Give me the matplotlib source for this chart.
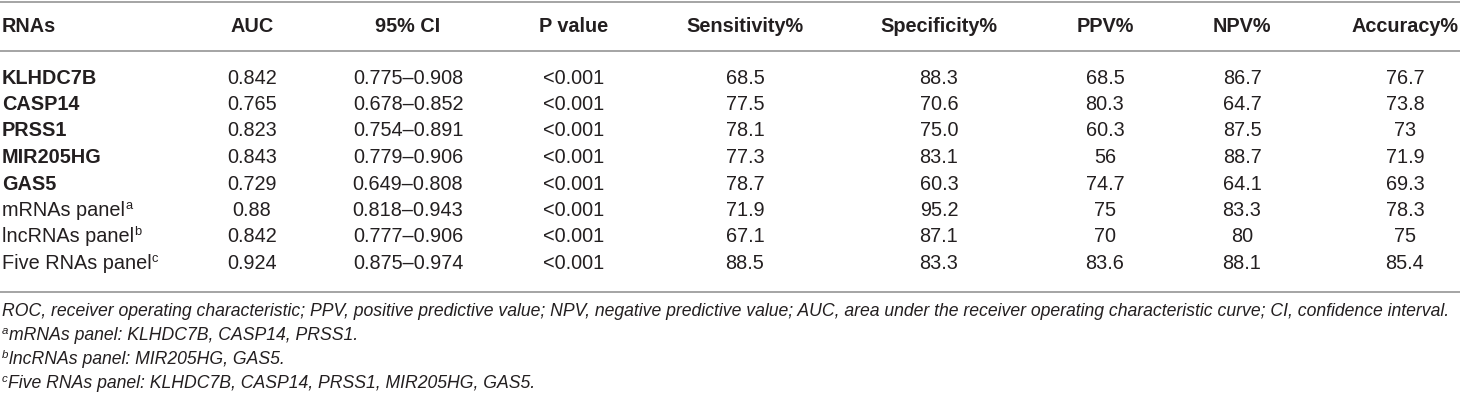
import matplotlib.pyplot as plt

plt.rcParams['font.family'] = ['Liberation Sans', 'DejaVu Sans']

# Table content
headers = ['RNAs', 'AUC', '95% CI', 'P value', 'Sensitivity%', 'Specificity%',
           'PPV%', 'NPV%', 'Accuracy%']
rnas = ['KLHDC7B', 'CASP14', 'PRSS1', 'MIR205HG', 'GAS5',
        'mRNAs panel', 'lncRNAs panel', 'Five RNAs panel']
rna_sup = ['', '', '', '', '', 'a', 'b', 'c']
rna_bold = [True, True, True, True, True, False, False, False]
auc = ['0.842', '0.765', '0.823', '0.843', '0.729', '0.88', '0.842', '0.924']
ci = ['0.775–0.908', '0.678–0.852', '0.754–0.891', '0.779–0.906',
      '0.649–0.808', '0.818–0.943', '0.777–0.906', '0.875–0.974']
pval = ['<0.001'] * 8
sensitivity = ['68.5', '77.5', '78.1', '77.3', '78.7', '71.9', '67.1', '88.5']
specificity = ['88.3', '70.6', '75.0', '83.1', '60.3', '95.2', '87.1', '83.3']
ppv = ['68.5', '80.3', '60.3', '56', '74.7', '75', '70', '83.6']
npv = ['86.7', '64.7', '87.5', '88.7', '64.1', '83.3', '80', '88.1']
accuracy = ['76.7', '73.8', '73', '71.9', '69.3', '78.3', '75', '85.4']

footnote_main = ('ROC, receiver operating characteristic; PPV, positive predictive value; '
                 'NPV, negative predictive value; AUC, area under the receiver operating '
                 'characteristic curve; CI, confidence interval.')
footnote_sups = ['a', 'b', 'c']
footnote_texts = ['mRNAs panel: KLHDC7B, CASP14, PRSS1.',
                  'lncRNAs panel: MIR205HG, GAS5.',
                  'Five RNAs panel: KLHDC7B, CASP14, PRSS1, MIR205HG, GAS5.']

columns = [auc, ci, pval, sensitivity, specificity, ppv, npv, accuracy]

# layout (pixel coordinates)
col_x = [252, 408, 574, 745, 939, 1105, 1242, 1405]
header_y = 27
row_y0, row_dy = 78, 26.5
line_ys = [1.5, 51, 292]
foot_y0, foot_dy = 311, 24
fs = 14.3
txt_color = '#231f20'

fig = plt.figure(figsize=(14.6, 4), dpi=100)
ax = fig.add_axes([0, 0, 1, 1])
ax.set_xlim(0, 1460)
ax.set_ylim(400, 0)
ax.axis('off')

for y in line_ys:
    ax.axhline(y, color='#9d9d9d', lw=1.3)

ax.text(2, header_y, headers[0], ha='left', va='center', fontsize=fs,
        fontweight='bold', color=txt_color)
for x, h in zip(col_x, headers[1:]):
    ax.text(x, header_y, h, ha='center', va='center', fontsize=fs,
            fontweight='bold', color=txt_color)

for i, name in enumerate(rnas):
    y = row_y0 + i * row_dy
    t = ax.text(2, y, name, ha='left', va='center', fontsize=fs,
                fontweight='bold' if rna_bold[i] else 'normal', color=txt_color)
    if rna_sup[i]:
        ax.annotate(rna_sup[i], xy=(1, 0.75), xycoords=t, ha='left', va='center',
                    fontsize=fs * 0.65, color=txt_color)
    for x, col in zip(col_x, columns):
        ax.text(x, y, col[i], ha='center', va='center', fontsize=fs, color=txt_color)

ffs = 12.7
ax.text(2, foot_y0, footnote_main, ha='left', va='center', fontsize=ffs,
        style='italic', color=txt_color)
for j, (s, ft) in enumerate(zip(footnote_sups, footnote_texts)):
    y = foot_y0 + (j + 1) * foot_dy
    st = ax.text(2, y - 4, s, ha='left', va='center', fontsize=ffs * 0.65,
                 style='italic', color=txt_color)
    ax.annotate(ft, xy=(1, 0), xycoords=st, xytext=(0.5, 0), textcoords='offset points',
                ha='left', va='center', fontsize=ffs, style='italic',
                color=txt_color, annotation_clip=False)

fig.savefig('out.png', dpi=100)
